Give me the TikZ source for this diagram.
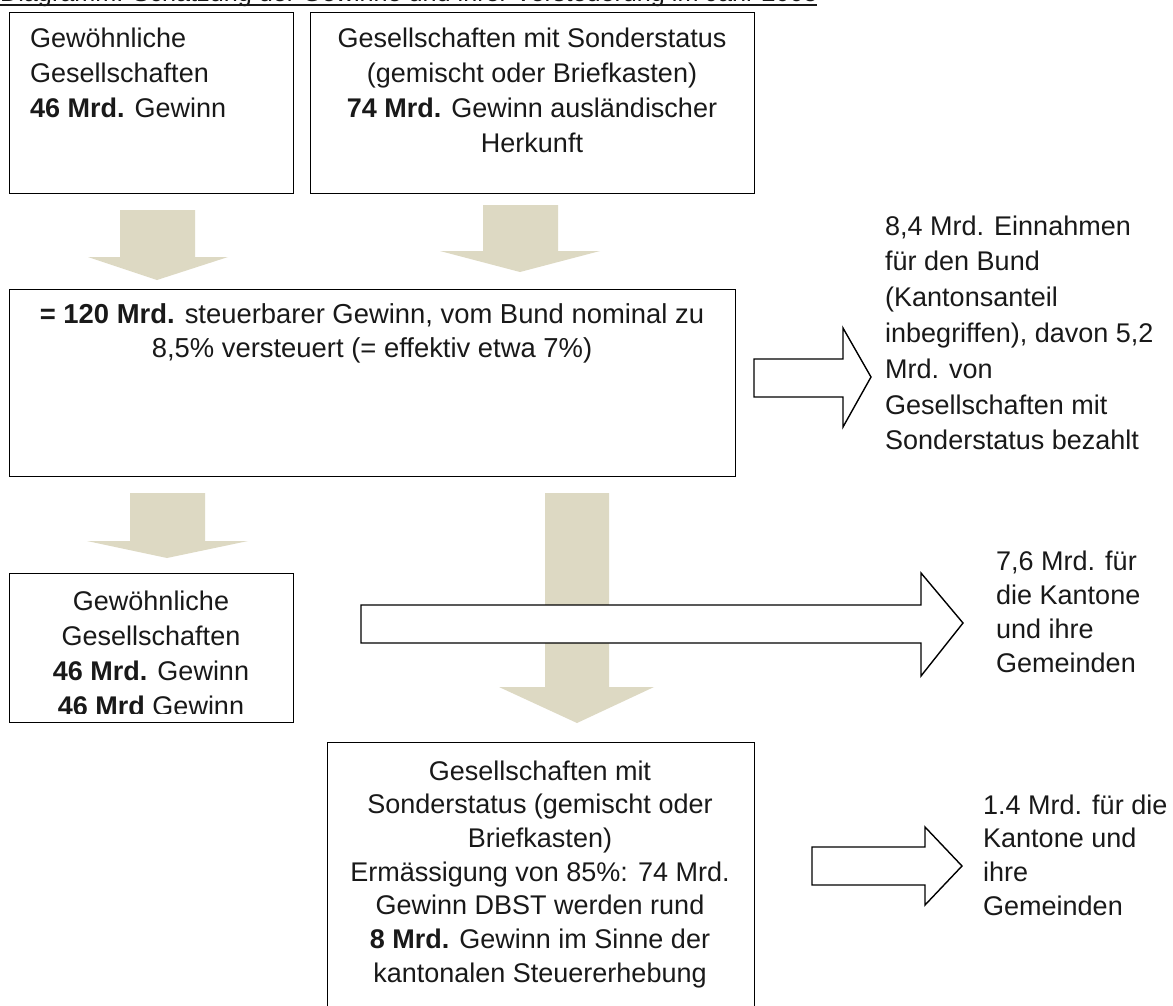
\documentclass[tikz,border=0pt]{standalone}
\usepackage{fontspec}
\setmainfont{Liberation Sans}
\definecolor{beige}{RGB}{221,217,195}
\definecolor{ink}{RGB}{25,25,25}
\newcommand{\fsz}[1]{\fontsize{27}{#1}\selectfont}
\begin{document}
\begin{tikzpicture}[x=1pt,y=-1pt,
  boxst/.style={draw=black, line width=1.4pt, rectangle, inner sep=0pt, anchor=north west},
  txt/.style={inner sep=0pt, text=ink},
  beigearrow/.style={fill=beige, draw=none},
  whitearrow/.style={fill=white, draw=black, line width=1.4pt, line join=miter}]
\useasboundingbox (0,0) rectangle (1173,1006);
\fill[white] (0,0) rectangle (1173,1006);

% title (cut off at the top)
\node[txt, anchor=base west, font=\fontsize{25.2}{30}\selectfont] (title) at (0,2)
  {Diagramm: Schätzung der Gewinne und ihrer Versteuerung im Jahr 2005};
\draw[line width=1.5pt, ink] (0,5) -- (817,5);

% boxes
\node[boxst, minimum width=284pt, minimum height=181pt] (boxA) at (9,12) {};
\node[boxst, minimum width=444pt, minimum height=181pt] (boxB) at (310,12) {};
\node[boxst, minimum width=726pt, minimum height=187pt] (boxC) at (9,289) {};
\node[boxst, minimum width=284pt, minimum height=149pt] (boxD) at (9,573) {};
\node[boxst, minimum width=427pt, minimum height=290pt] (boxE) at (327,742) {};

% box texts
\node[txt, anchor=north west, align=left, font=\fsz{35}] (tA) at (30,22.5)
  {\strut Gewöhnliche\\\strut Gesellschaften\\\strut\textbf{46 Mrd.} Gewinn};
\node[txt, anchor=north, align=center, font=\fsz{35}] (tB) at (532,22.5)
  {\strut Gesellschaften mit Sonderstatus\\\strut (gemischt oder Briefkasten)\\\strut\textbf{74 Mrd.} Gewinn ausländischer\\\strut Herkunft};
\node[txt, anchor=north, align=center, font=\fontsize{27.4}{34.5}\selectfont] (tC) at (372,298.85)
  {\strut\textbf{= 120 Mrd.} steuerbarer Gewinn, vom Bund nominal zu\\\strut 8,5\% versteuert (= effektiv etwa 7\%)};
\begin{scope}
\clip (9,573) rectangle (293,713.5);
\node[txt, anchor=north, align=center, font=\fsz{35}] (tD) at (151,585.5)
  {\strut Gewöhnliche\\\strut Gesellschaften\\\strut\textbf{46 Mrd.} Gewinn\\\strut\textbf{46 Mrd} Gewinn};
\end{scope}
\node[txt, anchor=north, align=center, font=\fsz{33.7}] (tE) at (540,756.4)
  {\strut Gesellschaften mit\\\strut Sonderstatus (gemischt oder\\\strut Briefkasten)\\\strut Ermässigung von 85\%: 74 Mrd.\\\strut Gewinn DBST werden rund\\\strut\textbf{8 Mrd.} Gewinn im Sinne der\\\strut kantonalen Steuererhebung};

% right texts
\node[txt, anchor=north west, align=left, font=\fsz{35.8}] (r1) at (885,209.9)
  {\strut 8,4 Mrd. Einnahmen\\\strut für den Bund\\\strut (Kantonsanteil\\\strut inbegriffen), davon 5,2\\\strut Mrd. von\\\strut Gesellschaften mit\\\strut Sonderstatus bezahlt};
\node[txt, anchor=north west, align=left, font=\fsz{34}] (r2) at (996,546.2)
  {\strut 7,6 Mrd. für\\\strut die Kantone\\\strut und ihre\\\strut Gemeinden};
\node[txt, anchor=north west, align=left, font=\fsz{33.7}] (r3) at (983,790.4)
  {\strut 1.4 Mrd. für die\\\strut Kantone und\\\strut ihre\\\strut Gemeinden};

% beige block arrows
\fill[beigearrow] (120,210) -- (195,210) -- (195,257) -- (228,257) -- (157,280)
  -- (88,257) -- (120,257) -- cycle;
\fill[beigearrow] (483,205) -- (558,205) -- (558,251) -- (600,251) -- (520,272)
  -- (440,251) -- (483,251) -- cycle;
\fill[beigearrow] (130,493) -- (205,493) -- (205,541) -- (248,541) -- (167,558)
  -- (87,541) -- (130,541) -- cycle;
\fill[beigearrow] (545,493) -- (609,493) -- (609,687) -- (654,687) -- (577,723)
  -- (499,687) -- (545,687) -- cycle;

% white block arrows
\draw[whitearrow] (754,359) -- (843,359) -- (843,328) -- (871,377) -- (843,427)
  -- (843,397) -- (754,397) -- cycle;
\draw[whitearrow] (361,605) -- (921,605) -- (921,573) -- (963,623) -- (921,676)
  -- (921,643) -- (361,643) -- cycle;
\draw[whitearrow] (812,847) -- (925,847) -- (925,827) -- (962,866) -- (925,905)
  -- (925,885) -- (812,885) -- cycle;
\end{tikzpicture}
\end{document}
